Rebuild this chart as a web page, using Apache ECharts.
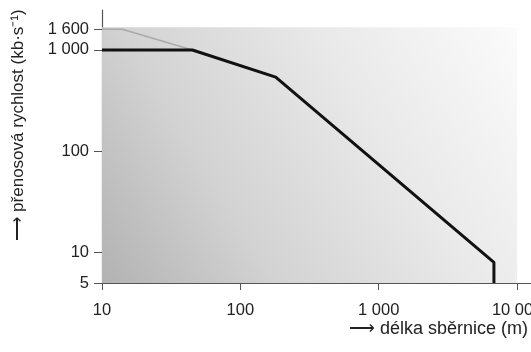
<!DOCTYPE html>
<html>
<head>
<meta charset="utf-8">
<script src="https://cdn.jsdelivr.net/npm/echarts@6/dist/echarts.min.js"></script>
<style>
  html, body { margin: 0; padding: 0; background: #fff; }
  #chart { width: 531px; height: 352px; }
</style>
</head>
<body>
<div id="chart"></div>
<script>
// délka sběrnice (m) -> přenosová rychlost (kb/s)
const lengths = [10, 45, 180, 6800, 6800];
const rates = [1000, 1000, 540, 8, 5];
// tenká šedá čára (1 600 kb/s)
const greyLengths = [10, 14, 45];
const greyRates = [1600, 1600, 1000];
// popisky os
const xTicks = [10, 100, 1000, 10000];
const yTicks = [5, 10, 100, 1000, 1600];

const fmt = (v) => String(v).replace(/\B(?=(\d{3})+(?!\d))/g, " ");
const font = "Liberation Sans, Arial, sans-serif";

const chart = echarts.init(document.getElementById("chart"));
chart.setOption({
  backgroundColor: "#fff",
  animation: false,
  grid: { left: 102, right: 0, top: 10, bottom: 69, outerBoundsMode: "none", containLabel: false },
  xAxis: {
    type: "log",
    min: 10,
    max: 12600,
    axisLine: { lineStyle: { color: "#555", width: 1.2 } },
    axisTick: { customValues: xTicks, length: 7, lineStyle: { color: "#555" } },
    axisLabel: {
      customValues: xTicks,
      formatter: fmt,
      margin: 19,
      fontSize: 16.5,
      color: "#222",
      fontFamily: font,
    },
    splitLine: { show: false },
  },
  yAxis: {
    type: "log",
    min: 5,
    max: 2480,
    axisLine: { lineStyle: { color: "#555", width: 1.2 } },
    axisTick: { customValues: yTicks, length: 8, lineStyle: { color: "#555" } },
    axisLabel: {
      customValues: yTicks,
      formatter: fmt,
      margin: 13,
      fontSize: 16.5,
      color: "#222",
      fontFamily: font,
    },
    splitLine: { show: false },
  },
  series: [
    {
      type: "line",
      data: greyLengths.map((x, i) => [x, greyRates[i]]),
      showSymbol: false,
      lineStyle: { color: "#aaa", width: 1.5 },
      markArea: {
        silent: true,
        itemStyle: {
          color: {
            type: "linear",
            x: 0, y: 1, x2: 1, y2: 0,
            colorStops: [
              { offset: 0, color: "#b2b2b2" },
              { offset: 0.3, color: "#d2d2d2" },
              { offset: 0.65, color: "#e9e9e9" },
              { offset: 1, color: "#fbfbfb" },
            ],
          },
        },
        data: [[{ coord: [10, 5] }, { coord: [10000, 1680] }]],
      },
      z: 3,
    },
    {
      type: "line",
      data: lengths.map((x, i) => [x, rates[i]]),
      showSymbol: false,
      lineStyle: { color: "#111", width: 3 },
      z: 4,
    },
  ],
  graphic: [
    {
      type: "text",
      x: 18,
      y: 125,
      rotation: Math.PI / 2,
      style: {
        text: "⟶ přenosová rychlost (kb·s⁻¹)",
        font: "17px " + font,
        fill: "#222",
        align: "center",
        verticalAlign: "middle",
      },
    },
    {
      type: "text",
      x: 528,
      y: 329,
      style: {
        text: "⟶ délka sběrnice (m)",
        font: "18px " + font,
        fill: "#222",
        align: "right",
        verticalAlign: "middle",
      },
    },
  ],
});
</script>
</body>
</html>
